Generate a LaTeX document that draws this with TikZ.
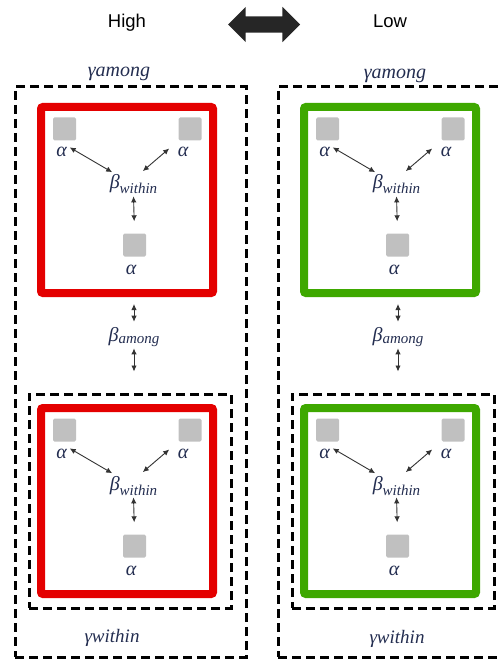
\documentclass[tikz,border=0pt]{standalone}
\usepackage{fontspec}
\setmainfont{Liberation Serif}
\newfontfamily\headFont{Liberation Sans}
\usetikzlibrary{shapes.arrows,arrows.meta}
\definecolor{highRed}{RGB}{228,0,0}
\definecolor{lowGreen}{RGB}{62,168,0}
\definecolor{siteGray}{RGB}{192,192,192}
\definecolor{greekInk}{RGB}{35,45,80}
\newcommand{\panelShift}{263}
\newcommand{\cellShift}{301}
\newcommand{\siteSize}{23pt}
\newcommand{\subText}[3]{#1\raisebox{#3}{\fontsize{15}{15}\selectfont #2}}

\begin{document}
\begin{tikzpicture}[x=1pt,y=-1pt]
\tikzstyle{outerBox}=[rectangle,draw,line width=3pt,dash pattern=on 9pt off 5pt,inner sep=0pt]
\tikzstyle{cellBox}=[rectangle,line width=8pt,rounded corners=2pt,minimum width=172pt,minimum height=186pt,inner sep=0pt]
\tikzstyle{siteNode}=[rectangle,fill=siteGray,rounded corners=1.5pt,minimum size=\siteSize,inner sep=0pt]
\tikzstyle{greekNode}=[text=greekInk,font=\fontsize{20}{20}\selectfont\itshape,inner sep=1pt,anchor=base]
\tikzstyle{headNode}=[font=\headFont\fontsize{18.5}{18.5}\selectfont,anchor=base]
\tikzstyle{pairEdge}=[{Latex[length=6pt,width=5.5pt]}-{Latex[length=6pt,width=5.5pt]},line width=0.9pt,draw=black!80]
\useasboundingbox (0,0) rectangle (498,660);
% heading
\node[headNode] (h-high) at (127,28) {High};
\node[headNode] (h-low) at (390,28) {Low};
\node[double arrow,fill=black!85,minimum width=35pt,minimum height=72pt,double arrow head extend=9.5pt,inner sep=8pt] (h-swap) at (264,24.5) {};
% dashed frames
\node[outerBox,minimum width=231pt,minimum height=570pt] (out-0) at ({130.5+0*\panelShift},372) {};
\node[outerBox,minimum width=231pt,minimum height=570pt] (out-1) at ({130.5+1*\panelShift},372) {};
\node[outerBox,minimum width=202pt,minimum height=214pt] (in-0) at ({130+0*\panelShift},501) {};
\node[outerBox,minimum width=202pt,minimum height=214pt] (in-1) at ({130+1*\panelShift},501) {};
\node[greekNode] (gA-0) at ({119+0*\panelShift},77) {γamong};
\node[greekNode] (gA-1) at ({395},79) {γamong};
\node[greekNode,font=\fontsize{19}{19}\selectfont\itshape] (gW-0) at ({112+0*\panelShift},642) {γwithin};
\node[greekNode,font=\fontsize{19}{19}\selectfont\itshape] (gW-1) at ({397},643) {γwithin};
% cell 0-0
\node[cellBox,draw=highRed] (box-0-0) at ({127+0*\panelShift},{200+0*\cellShift}) {};
\node[siteNode] (sq-0-0-1) at ({64.5+0*\panelShift},{129+0*\cellShift}) {};
\node[siteNode] (sq-0-0-2) at ({190+0*\panelShift},{129+0*\cellShift}) {};
\node[siteNode] (sq-0-0-3) at ({134.5+0*\panelShift},{245+0*\cellShift}) {};
\node[greekNode] (al-0-0-1) at ({61.5+0*\panelShift},{157+0*\cellShift}) {α};
\node[greekNode] (al-0-0-2) at ({183+0*\panelShift},{157+0*\cellShift}) {α};
\node[greekNode] (al-0-0-3) at ({131+0*\panelShift},{274+0*\cellShift}) {α};
\node[greekNode] (bw-0-0) at ({133.5+0*\panelShift},{189+0*\cellShift}) {\subText{β}{within}{-5pt}};
\draw[pairEdge,shorten <=2pt,shorten >=3pt] (al-0-0-1.north east) -- (bw-0-0.150);
\draw[pairEdge,shorten <=12pt,shorten >=4pt] (sq-0-0-2.south west) -- (bw-0-0.60);
\draw[pairEdge,shorten <=1pt,shorten >=12pt] (bw-0-0.south) -- (sq-0-0-3.north);
% cell 0-1
\node[cellBox,draw=highRed] (box-0-1) at ({127+0*\panelShift},{200+1*\cellShift}) {};
\node[siteNode] (sq-0-1-1) at ({64.5+0*\panelShift},{129+1*\cellShift}) {};
\node[siteNode] (sq-0-1-2) at ({190+0*\panelShift},{129+1*\cellShift}) {};
\node[siteNode] (sq-0-1-3) at ({134.5+0*\panelShift},{245+1*\cellShift}) {};
\node[greekNode] (al-0-1-1) at ({61.5+0*\panelShift},{157+1*\cellShift}) {α};
\node[greekNode] (al-0-1-2) at ({183+0*\panelShift},{157+1*\cellShift}) {α};
\node[greekNode] (al-0-1-3) at ({131+0*\panelShift},{274+1*\cellShift}) {α};
\node[greekNode] (bw-0-1) at ({133.5+0*\panelShift},{189+1*\cellShift}) {\subText{β}{within}{-5pt}};
\draw[pairEdge,shorten <=2pt,shorten >=3pt] (al-0-1-1.north east) -- (bw-0-1.150);
\draw[pairEdge,shorten <=12pt,shorten >=4pt] (sq-0-1-2.south west) -- (bw-0-1.60);
\draw[pairEdge,shorten <=1pt,shorten >=12pt] (bw-0-1.south) -- (sq-0-1-3.north);
% cell 1-0
\node[cellBox,draw=lowGreen] (box-1-0) at ({127+1*\panelShift},{200+0*\cellShift}) {};
\node[siteNode] (sq-1-0-1) at ({64.5+1*\panelShift},{129+0*\cellShift}) {};
\node[siteNode] (sq-1-0-2) at ({190+1*\panelShift},{129+0*\cellShift}) {};
\node[siteNode] (sq-1-0-3) at ({134.5+1*\panelShift},{245+0*\cellShift}) {};
\node[greekNode] (al-1-0-1) at ({61.5+1*\panelShift},{157+0*\cellShift}) {α};
\node[greekNode] (al-1-0-2) at ({183+1*\panelShift},{157+0*\cellShift}) {α};
\node[greekNode] (al-1-0-3) at ({131+1*\panelShift},{274+0*\cellShift}) {α};
\node[greekNode] (bw-1-0) at ({133.5+1*\panelShift},{189+0*\cellShift}) {\subText{β}{within}{-5pt}};
\draw[pairEdge,shorten <=2pt,shorten >=3pt] (al-1-0-1.north east) -- (bw-1-0.150);
\draw[pairEdge,shorten <=12pt,shorten >=4pt] (sq-1-0-2.south west) -- (bw-1-0.60);
\draw[pairEdge,shorten <=1pt,shorten >=12pt] (bw-1-0.south) -- (sq-1-0-3.north);
% cell 1-1
\node[cellBox,draw=lowGreen] (box-1-1) at ({127+1*\panelShift},{200+1*\cellShift}) {};
\node[siteNode] (sq-1-1-1) at ({64.5+1*\panelShift},{129+1*\cellShift}) {};
\node[siteNode] (sq-1-1-2) at ({190+1*\panelShift},{129+1*\cellShift}) {};
\node[siteNode] (sq-1-1-3) at ({134.5+1*\panelShift},{245+1*\cellShift}) {};
\node[greekNode] (al-1-1-1) at ({61.5+1*\panelShift},{157+1*\cellShift}) {α};
\node[greekNode] (al-1-1-2) at ({183+1*\panelShift},{157+1*\cellShift}) {α};
\node[greekNode] (al-1-1-3) at ({131+1*\panelShift},{274+1*\cellShift}) {α};
\node[greekNode] (bw-1-1) at ({133.5+1*\panelShift},{189+1*\cellShift}) {\subText{β}{within}{-5pt}};
\draw[pairEdge,shorten <=2pt,shorten >=3pt] (al-1-1-1.north east) -- (bw-1-1.150);
\draw[pairEdge,shorten <=12pt,shorten >=4pt] (sq-1-1-2.south west) -- (bw-1-1.60);
\draw[pairEdge,shorten <=1pt,shorten >=12pt] (bw-1-1.south) -- (sq-1-1-3.north);
% between cells
\node[greekNode] (ba-0) at ({134+0*\panelShift},341) {\subText{β}{among}{-2pt}};
\node[greekNode] (ba-1) at ({398+0*\panelShift},341) {\subText{β}{among}{-2pt}};
\draw[pairEdge,shorten <=7pt,shorten >=4pt] (ba-0.north |- box-0-0.south) -- (ba-0.north);
\draw[pairEdge,shorten <=1pt,shorten >=21pt] (ba-0.south) -- (ba-0.south |- in-0.north);
\draw[pairEdge,shorten <=7pt,shorten >=4pt] (ba-1.north |- box-1-0.south) -- (ba-1.north);
\draw[pairEdge,shorten <=1pt,shorten >=21pt] (ba-1.south) -- (ba-1.south |- in-1.north);
\end{tikzpicture}
\end{document}
